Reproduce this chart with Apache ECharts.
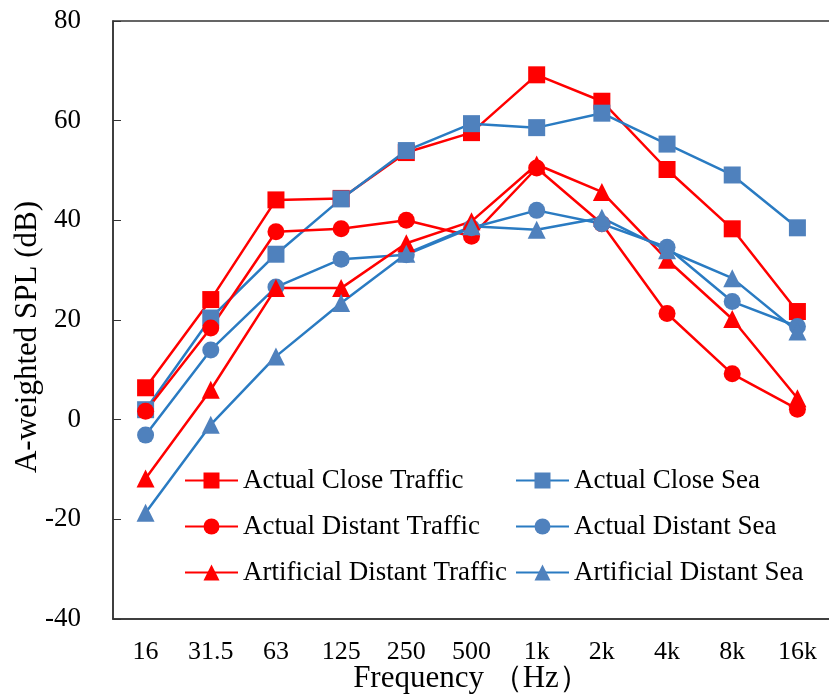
<!DOCTYPE html>
<html>
<head>
<meta charset="utf-8">
<script src="https://cdn.jsdelivr.net/npm/echarts@6/dist/echarts.min.js"></script>
<style>html,body{margin:0;padding:0;background:#fff}#c{width:829px;height:696px}</style>
</head>
<body>
<div id="c"></div>
<script>
const categories = ['16','31.5','63','125','250','500','1k','2k','4k','8k','16k'];
const yTicks = { min: -40, max: 80, interval: 20 };

const actualCloseTraffic      = [6.4, 24.1, 44.1, 44.4, 53.6, 57.6, 69.2, 63.9, 50.2, 38.3, 21.7];
const actualCloseSea          = [2.0, 20.4, 33.2, 44.3, 54.0, 59.4, 58.6, 61.5, 55.3, 49.1, 38.5];
const actualDistantTraffic    = [1.7, 18.4, 37.7, 38.3, 40.0, 36.8, 50.5, 39.3, 21.3, 9.2, 2.1];
const actualDistantSea        = [-3.1, 14.0, 26.6, 32.2, 33.1, 38.5, 42.0, 39.3, 34.6, 23.7, 18.7];
const artificialDistantTraffic= [-11.8, 6.0, 26.4, 26.4, 35.4, 39.8, 51.2, 45.7, 32.1, 20.2, 4.3];
const artificialDistantSea    = [-18.7, -1.0, 12.7, 23.4, 33.3, 38.8, 38.1, 40.5, 34.0, 28.4, 17.7];

const RED = '#ff0000';
const BLUE_LINE = '#2a7bc2';
const BLUE_MARK = '#4f81bd';
const FONT = '"Liberation Serif", "Times New Roman", serif';

function mk(name, data, symbol, red) {
  return {
    name, type: 'line', data, symbol,
    symbolSize: symbol === 'triangle' ? 18 : 17,
    lineStyle: { color: red ? RED : BLUE_LINE, width: 2.5 },
    itemStyle: { color: red ? RED : BLUE_MARK },
    emphasis: { disabled: true },
    z: 2
  };
}

const chart = echarts.init(document.getElementById('c'), null, { renderer: 'canvas' });
const legendCommon = {
  orient: 'vertical', itemWidth: 53, itemHeight: 20, itemGap: 19, padding: 0,
  textStyle: { fontFamily: FONT, fontSize: 27, color: '#000' },
  selectedMode: false
};
chart.setOption({
  animation: false,
  backgroundColor: '#fff',
  grid: { left: 113, top: 21, width: 717, height: 598, show: true, borderColor: '#333', borderWidth: 1.5, outerBoundsMode: 'none', containLabel: false },
  legend: [
    Object.assign({ left: 184, top: 467, data: ['Actual Close Traffic','Actual Distant Traffic','Artificial Distant Traffic'] }, legendCommon),
    Object.assign({ left: 515, top: 467, data: ['Actual Close Sea','Actual Distant Sea','Artificial Distant Sea'] }, legendCommon)
  ],
  xAxis: {
    type: 'category', data: categories, boundaryGap: true,
    name: 'Frequency （Hz）', nameLocation: 'middle', nameGap: 44, nameMoveOverlap: false,
    nameTextStyle: { fontFamily: FONT, fontSize: 31, color: '#000' },
    axisLine: { onZero: false, lineStyle: { color: '#333', width: 1.5 } },
    axisTick: { inside: true, length: 8, lineStyle: { color: '#333' } },
    axisLabel: { fontFamily: FONT, fontSize: 26, color: '#000', margin: 20 },
    splitLine: { show: false }
  },
  yAxis: {
    type: 'value', min: yTicks.min, max: yTicks.max, interval: yTicks.interval,
    name: 'A-weighted SPL (dB)', nameLocation: 'middle', nameGap: 70, nameRotate: 90, nameMoveOverlap: false,
    nameTextStyle: { fontFamily: FONT, fontSize: 31, color: '#000', padding: [0, 34, 0, 0] },
    axisLine: { show: true, lineStyle: { color: '#333', width: 1.5 } },
    axisTick: { show: true, inside: true, length: 8, lineStyle: { color: '#333' } },
    axisLabel: { fontFamily: FONT, fontSize: 27, color: '#000', margin: 32 },
    splitLine: { show: false }
  },
  series: [
    mk('Actual Close Traffic', actualCloseTraffic, 'rect', true),
    mk('Actual Close Sea', actualCloseSea, 'rect', false),
    mk('Actual Distant Traffic', actualDistantTraffic, 'circle', true),
    mk('Actual Distant Sea', actualDistantSea, 'circle', false),
    mk('Artificial Distant Traffic', artificialDistantTraffic, 'triangle', true),
    mk('Artificial Distant Sea', artificialDistantSea, 'triangle', false)
  ]
});
</script>
</body>
</html>
